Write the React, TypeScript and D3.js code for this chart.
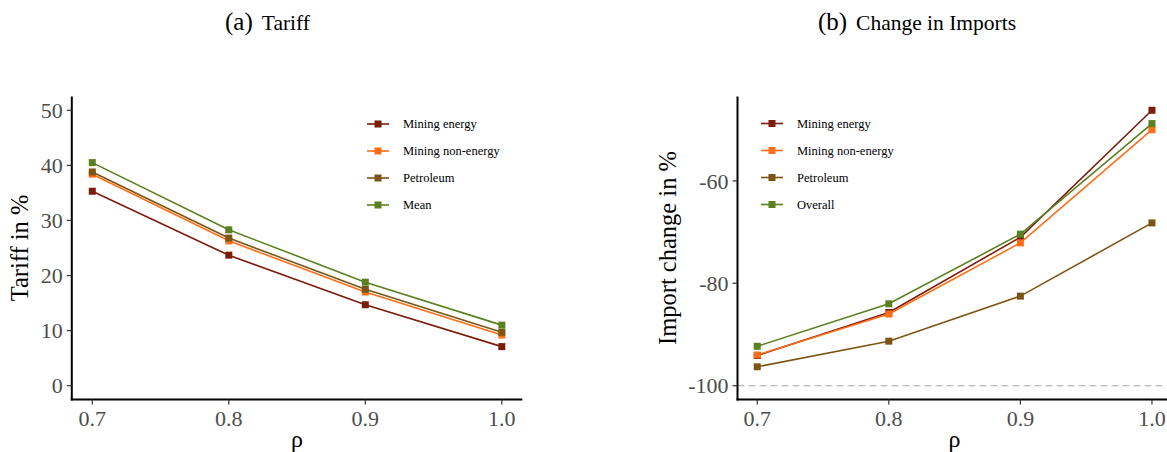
import React from "react";
import * as d3 from "d3";

const rho = [0.7, 0.8, 0.9, 1.0];
const xTicks = [0.7, 0.8, 0.9, 1.0];

const tariffMiningEnergy = [35.3, 23.7, 14.7, 7.1];
const tariffMiningNonEnergy = [38.4, 26.3, 17.0, 9.2];
const tariffPetroleum = [38.8, 26.8, 17.5, 9.7];
const tariffMean = [40.5, 28.3, 18.8, 11.0];
const tariffTicks = [0, 10, 20, 30, 40, 50];

const importMiningEnergy = [-94.1, -85.7, -71.0, -46.2];
const importMiningNonEnergy = [-94.0, -86.0, -72.1, -50.0];
const importPetroleum = [-96.3, -91.3, -82.5, -68.2];
const importOverall = [-92.3, -84.0, -70.4, -48.8];
const importTicks = [-100, -80, -60];
const importRef = -100;

const leftNames = ["Mining energy", "Mining non-energy", "Petroleum", "Mean"];
const rightNames = ["Mining energy", "Mining non-energy", "Petroleum", "Overall"];
const colors = ["#7C1C0B", "#FF6D17", "#7C5515", "#5A8020"];

const FONT = "'Liberation Serif', 'DejaVu Serif', serif";

type PanelProps = {
  series: number[][];
  names: string[];
  domainY: [number, number];
  yTicks: number[];
  x0: number;
  x1: number;
  yTitle: string;
  yTitleX: number;
  legendX: number;
  legendY: number;
  refLine?: number;
};

function Panel(p: PanelProps) {
  const top = 96.5;
  const bottom = 399.5;
  const xs = d3.scaleLinear().domain([0.685, 1.015]).range([p.x0, p.x1]);
  const ys = d3.scaleLinear().domain(p.domainY).range([bottom, top]);
  const line = d3
    .line<number>()
    .x((_, i) => xs(rho[i]))
    .y((d) => ys(d));
  const cx = (p.x0 + p.x1) / 2;
  const cy = (top + bottom) / 2;
  return (
    <g>
      {p.refLine !== undefined && (
        <line
          x1={p.x0}
          x2={1167}
          y1={ys(p.refLine)}
          y2={ys(p.refLine)}
          stroke="#a8a8a8"
          strokeWidth={1.2}
          strokeDasharray="7,4"
        />
      )}
      {p.series.map((s, k) => (
        <g key={k}>
          <path d={line(s) || ""} fill="none" stroke={colors[k]} strokeWidth={1.6} />
          {s.map((v, i) => (
            <rect
              key={i}
              x={xs(rho[i]) - 3.5}
              y={ys(v) - 3.5}
              width={7}
              height={7}
              fill={colors[k]}
            />
          ))}
        </g>
      ))}
      <line x1={p.x0} x2={p.x0} y1={top} y2={bottom + 1} stroke="#000" strokeWidth={2} />
      <line x1={p.x0 - 1} x2={p.x1} y1={bottom} y2={bottom} stroke="#000" strokeWidth={2} />
      {p.yTicks.map((t) => (
        <g key={t}>
          <line x1={p.x0 - 5} x2={p.x0} y1={ys(t)} y2={ys(t)} stroke="#333" strokeWidth={1.2} />
          <text
            x={p.x0 - 9}
            y={ys(t)}
            dy="0.35em"
            textAnchor="end"
            fontFamily={FONT}
            fontSize={22}
            fill="#4d4d4d"
          >
            {t}
          </text>
        </g>
      ))}
      {xTicks.map((t) => (
        <g key={t}>
          <line x1={xs(t)} x2={xs(t)} y1={bottom} y2={bottom + 5} stroke="#333" strokeWidth={1.2} />
          <text
            x={xs(t)}
            y={426}
            textAnchor="middle"
            fontFamily={FONT}
            fontSize={22}
            fill="#4d4d4d"
          >
            {d3.format(".1f")(t)}
          </text>
        </g>
      ))}
      <text x={cx} y={447} textAnchor="middle" fontFamily={FONT} fontSize={24} fill="#000">
        ρ
      </text>
      <text
        transform={`translate(${p.yTitleX},${cy}) rotate(-90)`}
        textAnchor="middle"
        fontFamily={FONT}
        fontSize={24.5}
        fill="#000"
      >
        {p.yTitle}
      </text>
      {p.names.map((n, k) => {
        const y = p.legendY + k * 27;
        return (
          <g key={n}>
            <line x1={p.legendX} x2={p.legendX + 22} y1={y} y2={y} stroke={colors[k]} strokeWidth={1.6} />
            <rect x={p.legendX + 7.5} y={y - 3.5} width={7} height={7} fill={colors[k]} />
            <text
              x={p.legendX + 36}
              y={y}
              dy="0.33em"
              fontFamily={FONT}
              fontSize={12.5}
              fill="#000"
            >
              {n}
            </text>
          </g>
        );
      })}
    </g>
  );
}

export default function App() {
  const impMax = d3.max([importMiningEnergy, importMiningNonEnergy, importPetroleum, importOverall].flat()) as number;
  const impMin = importRef;
  const pad = (impMax - impMin) * 0.05;
  return (
    <div style={{ position: "absolute", left: 0, top: 0 }}>
      <svg width={1167} height={452} style={{ display: "block", background: "#fff" }}>
        <text x={267.5} y={29.5} textAnchor="middle" fontFamily={FONT} fill="#000">
          <tspan fontSize={25}>(a)</tspan>
          <tspan fontSize={21.5} dx={9}>Tariff</tspan>
        </text>
        <text x={917} y={29.5} textAnchor="middle" fontFamily={FONT} fill="#000">
          <tspan fontSize={25}>(b)</tspan>
          <tspan fontSize={21.5} dx={9}>Change in Imports</tspan>
        </text>
        <Panel
          series={[tariffMiningEnergy, tariffMiningNonEnergy, tariffPetroleum, tariffMean]}
          names={leftNames}
          domainY={[-2.5, 52.5]}
          yTicks={tariffTicks}
          x0={71.8}
          x1={522.3}
          yTitle="Tariff in %"
          yTitleX={27.5}
          legendX={367}
          legendY={124}
        />
        <Panel
          series={[importMiningEnergy, importMiningNonEnergy, importPetroleum, importOverall]}
          names={rightNames}
          domainY={[impMin - pad, impMax + pad]}
          yTicks={importTicks}
          x0={737.5}
          x1={1171.7}
          yTitle="Import change in %"
          yTitleX={675.5}
          legendX={761}
          legendY={123.5}
          refLine={importRef}
        />
      </svg>
    </div>
  );
}
